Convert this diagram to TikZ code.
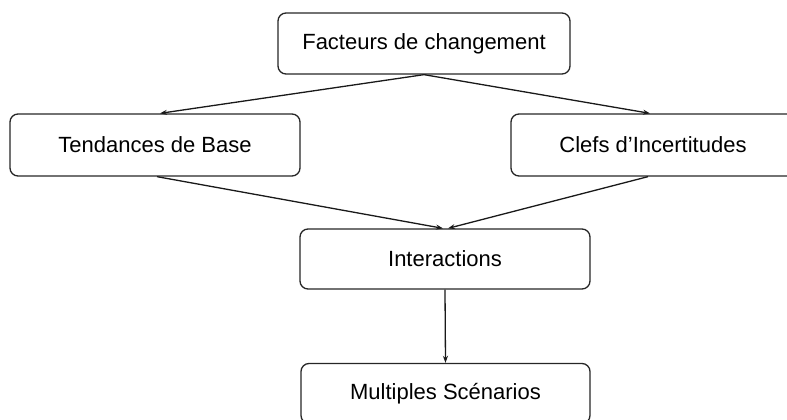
\documentclass[tikz,border=0pt]{standalone}
\usepackage{fontspec}
\setmainfont{Liberation Sans}
\usetikzlibrary{arrows.meta}
\tikzstyle{box} = [draw=black!85, rounded corners=8pt, line width=1.3pt, minimum width=290pt, minimum height=61pt, inner sep=0pt, font=\fontsize{22}{26}\selectfont]
\tikzstyle{link} = [draw=black!90, line width=1.3pt, -{Stealth[length=7pt,width=5pt]}]

\begin{document}
\begin{tikzpicture}[x=1pt, y=-1pt]
    \clip (0,0) rectangle (787,420);
    \node (fact) [box, minimum width=292pt] at (424,43.5) {Facteurs de changement};
    \node (tend) [box, minimum height=62pt] at (155,145) {Tendances de Base};
    \node (clef) [box, minimum width=284pt, minimum height=62pt] at (653,145) {Clefs d'Incertitudes};
    \node (inter) [box, minimum height=60pt] at (445,259) {Interactions};
    \node (multi) [box, minimum width=289pt, minimum height=60pt] at (445.5,393.5) {Multiples Scénarios};
    \draw [link] (fact.south) -- ([xshift=5pt]tend.north);
    \draw [link] (fact.south) -- ([xshift=-3pt]clef.north);
    \draw [link] ([xshift=2pt]tend.south) -- ([xshift=-2pt]inter.north);
    \draw [link] ([xshift=-5pt]clef.south) -- ([xshift=3pt]inter.north);
    \draw [link] (inter.south) -- (multi.north);
\end{tikzpicture}
\end{document}
